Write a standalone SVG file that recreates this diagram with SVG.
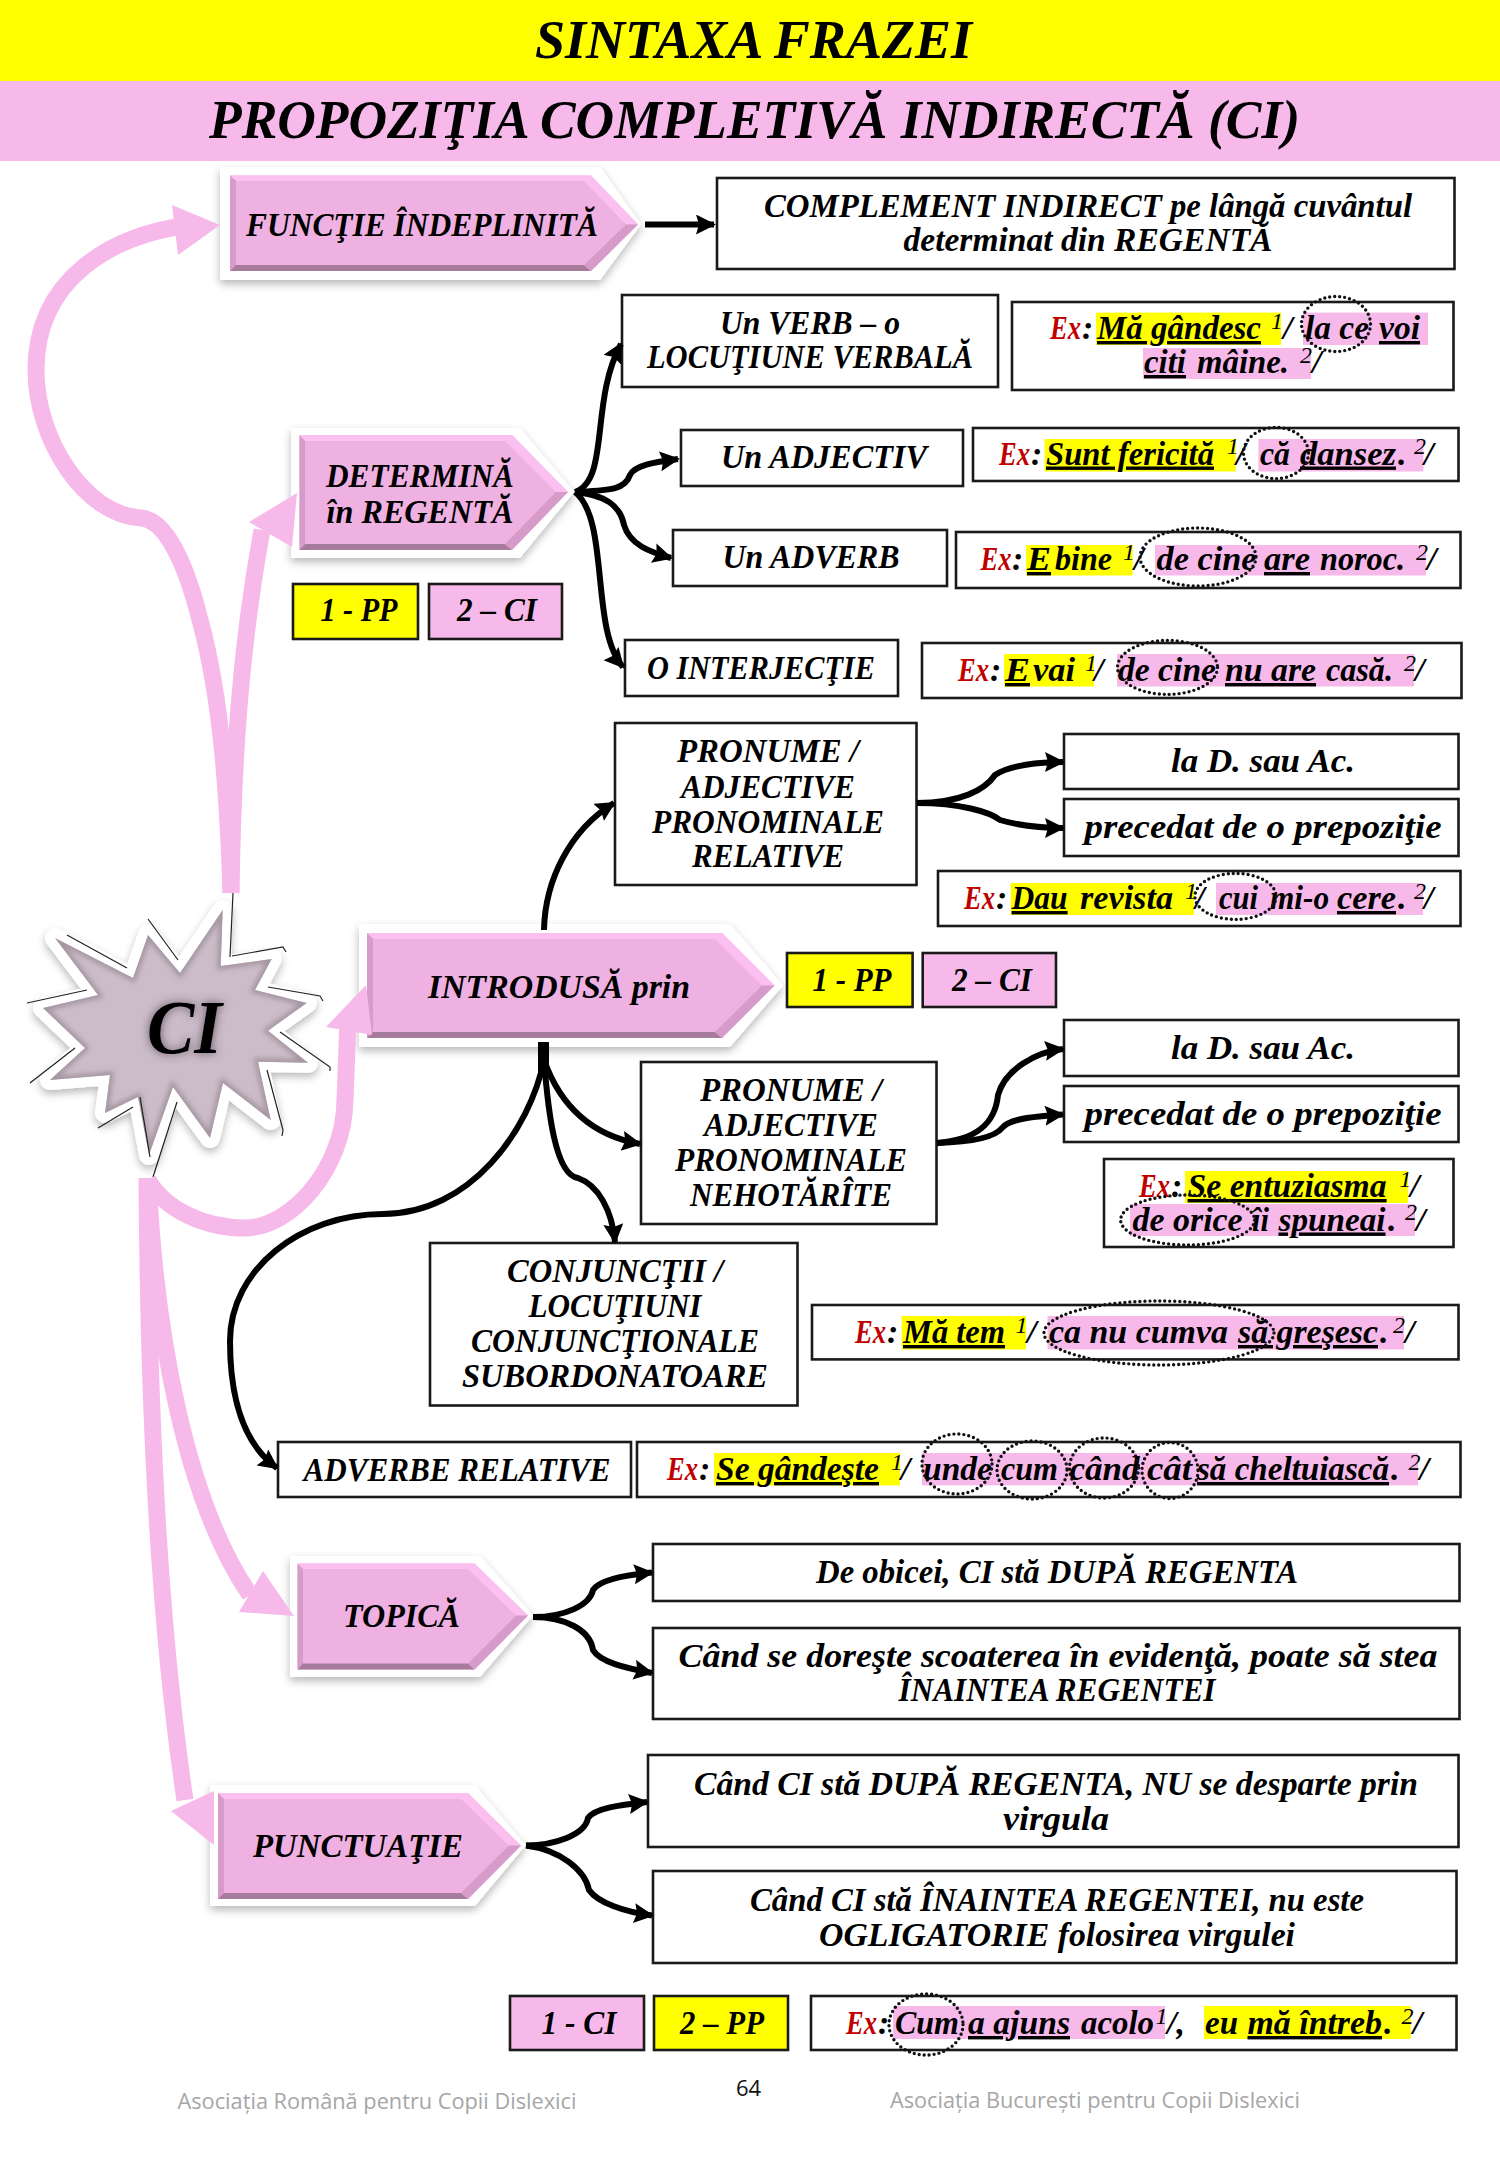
<svg xmlns="http://www.w3.org/2000/svg" width="1500" height="2167" viewBox="0 0 1500 2167">
<style>
text{font-family:"Liberation Serif",serif;font-style:italic;font-weight:bold;fill:#000;font-size:34px}
.m{text-anchor:middle}
.ttl{font-size:55px}
.box{fill:#fff;stroke:#1a1a1a;stroke-width:2.6}
.y{fill:#ffff00;stroke:#1a1a1a;stroke-width:2.6}
.p{fill:#f7b9ea;stroke:#1a1a1a;stroke-width:2.6}
.hy{fill:#ffff00}.hp{fill:#f7b9ea}
.ex{fill:#c00000}
.u{text-decoration:underline;text-decoration-style:double}
.s{font-size:24px;font-weight:normal}
.ring{fill:none;stroke:#111;stroke-width:3.4;stroke-linecap:round;stroke-dasharray:0 5}
.pl{fill:none;stroke:#f7b9ea;stroke-width:17}
.pa{fill:#f7b9ea}
.bl{fill:none;stroke:#000;stroke-width:6}
.ar{fill:#000}
.foot{font-family:"Open Sans","Liberation Sans",sans-serif;font-style:normal;font-weight:normal;font-size:22px;fill:#a6a6a6}
.out{fill:#fff;filter:url(#sh)}
.body{fill:#efb1e2}.top{fill:#fbc0f0}.bot{fill:#a67c9c}.side{fill:#d79bca}
.star{fill:#cbbcc8}
.stare{fill:none;stroke:#a596a2;stroke-width:7;filter:url(#bl);clip-path:url(#sc)}
.starout{fill:#fff;stroke:#fff;stroke-width:20;stroke-linejoin:round;filter:url(#sh)}
.th{fill:none;stroke:#222;stroke-width:1.2}
</style>
<defs>
<filter id="sh" x="-15%" y="-15%" width="130%" height="130%"><feDropShadow dx="0" dy="4" stdDeviation="4" flood-color="#000" flood-opacity=".28"/></filter>
<filter id="gl" x="-30%" y="-30%" width="160%" height="160%"><feDropShadow dx="0" dy="0" stdDeviation="5" flood-color="#4a3a48" flood-opacity=".8"/></filter>
<filter id="bl"><feGaussianBlur stdDeviation="2.5"/></filter>
<clipPath id="sc"><polygon points="222.7,910 220.7,966 271.7,959 255,990 306.7,1003 268,1030.7 308,1062.7 258,1061.7 270.7,1120 223,1083 210,1138 173,1087 149,1155 138,1097 105,1113 110,1075 50,1080 85,1048 43,1008 98,995 55,938 133,978 148,935 180,973"/></clipPath>
<marker id="a" markerUnits="userSpaceOnUse" markerWidth="26" markerHeight="26" refX="18" refY="10" orient="auto"><path d="M0 0L20 10L0 20L3 10Z" class="ar"/></marker>
</defs>
<rect x="0" y="0" width="1500" height="2167" fill="#fff"/>
<g id="title"><rect x="0" y="0" width="1500" height="81" fill="#ffff00"/><text class="m ttl" x="753.5" y="58" textLength="437" lengthAdjust="spacingAndGlyphs">SINTAXA FRAZEI</text></g>
<g id="subtitle"><rect x="0" y="81" width="1500" height="80" fill="#f7b9ea"/><text class="m ttl" x="754.5" y="138" textLength="1091" lengthAdjust="spacingAndGlyphs">PROPOZIŢIA COMPLETIVĂ INDIRECTĂ (CI)</text></g>

<g id="star">
<polygon class="starout" points="222.7,910 220.7,966 271.7,959 255,990 306.7,1003 268,1030.7 308,1062.7 258,1061.7 270.7,1120 223,1083 210,1138 173,1087 149,1155 138,1097 105,1113 110,1075 50,1080 85,1048 43,1008 98,995 55,938 133,978 148,935 180,973"/>
<polygon class="star" points="222.7,910 220.7,966 271.7,959 255,990 306.7,1003 268,1030.7 308,1062.7 258,1061.7 270.7,1120 223,1083 210,1138 173,1087 149,1155 138,1097 105,1113 110,1075 50,1080 85,1048 43,1008 98,995 55,938 133,978 148,935 180,973"/>
<polygon class="stare" points="222.7,910 220.7,966 271.7,959 255,990 306.7,1003 268,1030.7 308,1062.7 258,1061.7 270.7,1120 223,1083 210,1138 173,1087 149,1155 138,1097 105,1113 110,1075 50,1080 85,1048 43,1008 98,995 55,938 133,978 148,935 180,973"/>
<path class="th" d="M67 935L127 968M148 919L178 960M232 956L283 947L286 952M268 987L320 996L323 1001M280 1032L330 1067L330 1071M267 1070L283 1130L282 1136M177 1102L153 1177M140 1097L150 1157M233 893L230 957M27 1003L87 990M98 1128L133 1107M30 1083L75 1048"/>
<text x="147" y="1053" textLength="75" lengthAdjust="spacingAndGlyphs" style="font-size:76px;filter:url(#gl)">CI</text>
</g>

<g id="n-functie">
<polygon class="out" points="220,167 600,167 641,224.5 600,280 220,280"/>
<polygon class="body" points="230,175.5 591,175.5 638,224.5 591,271 230,271"/>
<polygon class="top" points="230,175.5 591,175.5 638,224.5 626,224.5 584,181 236,181"/>
<polygon class="side" points="230,175.5 236,181 236,265 230,271"/>
<polygon class="bot" points="230,271 591,271 584,265 236,265"/>
<polygon class="side" points="638,224.5 591,271 584,265 626,224.5"/>
<text class="m" x="422" y="236" textLength="352" lengthAdjust="spacingAndGlyphs">FUNCŢIE ÎNDEPLINITĂ</text>
</g>
<g id="n-complement"><rect class="box" x="717" y="178" width="737.5" height="91"/>
<text class="m" x="1088" y="217" textLength="648" lengthAdjust="spacingAndGlyphs">COMPLEMENT INDIRECT pe lângă cuvântul</text><text class="m" x="1088" y="251" textLength="369" lengthAdjust="spacingAndGlyphs">determinat din REGENTĂ</text></g>

<g id="n-determina">
<polygon class="out" points="291,428 520,428 574,492 520,558 291,558"/>
<polygon class="body" points="299.5,435 512,435 568,492 512,550 299.5,550"/>
<polygon class="top" points="299.5,435 512,435 568,492 556,492 505,441 305,441"/>
<polygon class="side" points="299.5,435 305,441 305,544 299.5,550"/>
<polygon class="bot" points="299.5,550 512,550 505,544 305,544"/>
<polygon class="side" points="568,492 512,550 505,544 556,492"/>
<text class="m" x="420" y="487" textLength="188" lengthAdjust="spacingAndGlyphs">DETERMINĂ</text><text class="m" x="420" y="523" textLength="187" lengthAdjust="spacingAndGlyphs">în REGENTĂ</text>
</g>
<g id="k1"><rect class="y" x="293" y="584" width="125" height="55"/><text class="m" x="359" y="621" textLength="77" lengthAdjust="spacingAndGlyphs">1 - PP</text></g>
<g id="k2"><rect class="p" x="429" y="584" width="133" height="55"/><text class="m" x="497" y="621" textLength="80" lengthAdjust="spacingAndGlyphs">2 – CI</text></g>

<g id="n-verb"><rect class="box" x="622" y="295" width="376" height="92"/><text class="m" x="810" y="334" textLength="180" lengthAdjust="spacingAndGlyphs">Un VERB – o</text><text class="m" x="810" y="368" textLength="326" lengthAdjust="spacingAndGlyphs">LOCUŢIUNE VERBALĂ</text></g>
<g id="ex1"><rect class="box" x="1012" y="302" width="441.5" height="88"/>
<rect class="hy" x="1096" y="312.6" width="185" height="32.4"/><rect class="hp" x="1303" y="312.6" width="125" height="32.4"/><rect class="hp" x="1143" y="348" width="168" height="31"/>
<text class="ex" x="1050" y="339" textLength="31" lengthAdjust="spacingAndGlyphs">Ex</text><text x="1082" y="339">:</text>
<text class="u" x="1097" y="339" textLength="164" lengthAdjust="spacingAndGlyphs">Mă gândesc</text><text class="s" x="1271" y="329">1</text><text y="339" x="1283">/</text>
<text y="339" x="1305" textLength="64" lengthAdjust="spacingAndGlyphs">la ce</text><text class="u" y="339" x="1379" textLength="41" lengthAdjust="spacingAndGlyphs">voi</text>
<text class="u" y="373" x="1144" textLength="42" lengthAdjust="spacingAndGlyphs">citi</text><text y="373" x="1197" textLength="92" lengthAdjust="spacingAndGlyphs">mâine.</text><text class="s" x="1300" y="363">2</text><text y="373" x="1312">/</text>
<ellipse class="ring" cx="1336" cy="324" rx="34.5" ry="27.5"/></g>

<g id="n-adj"><rect class="box" x="681" y="430" width="282" height="56"/><text class="m" x="824" y="468" textLength="206" lengthAdjust="spacingAndGlyphs">Un ADJECTIV</text></g>
<g id="ex2"><rect class="box" x="973" y="428" width="485.5" height="53"/>
<rect class="hy" x="1044.6" y="439" width="191" height="32.5"/><rect class="hp" x="1258.4" y="439" width="165" height="32.5"/>
<text class="ex" x="999" y="464.5" textLength="31" lengthAdjust="spacingAndGlyphs">Ex</text><text x="1031" y="464.5">:</text>
<text class="u" x="1046" y="464.5" textLength="168" lengthAdjust="spacingAndGlyphs">Sunt fericită</text><text class="s" x="1227" y="454">1</text><text y="464.5" x="1236">/</text>
<text y="464.5" x="1260" textLength="30" lengthAdjust="spacingAndGlyphs">că</text><text class="u" y="464.5" x="1300" textLength="96" lengthAdjust="spacingAndGlyphs">dansez</text><text y="464.5" x="1398">.</text><text class="s" x="1414" y="454">2</text><text y="464.5" x="1424">/</text>
<ellipse class="ring" cx="1276" cy="453" rx="32.5" ry="25.6"/></g>

<g id="n-adv"><rect class="box" x="673" y="530" width="274" height="56"/><text class="m" x="811" y="568" textLength="177" lengthAdjust="spacingAndGlyphs">Un ADVERB</text></g>
<g id="ex3"><rect class="box" x="956" y="532" width="504.5" height="56"/>
<rect class="hy" x="1026" y="545" width="106.6" height="30.5"/><rect class="hp" x="1155" y="545" width="271" height="30.5"/>
<text class="ex" x="980.5" y="570" textLength="31" lengthAdjust="spacingAndGlyphs">Ex</text><text x="1012" y="570">:</text>
<text class="u" x="1027" y="570" textLength="24" lengthAdjust="spacingAndGlyphs">E</text><text x="1055" y="570" textLength="57" lengthAdjust="spacingAndGlyphs">bine</text><text class="s" x="1123" y="560">1</text><text y="570" x="1134">/</text>
<text y="570" x="1156.5" textLength="100" lengthAdjust="spacingAndGlyphs">de cine</text><text class="u" y="570" x="1264" textLength="46" lengthAdjust="spacingAndGlyphs">are</text><text y="570" x="1320" textLength="85" lengthAdjust="spacingAndGlyphs">noroc.</text><text class="s" x="1416" y="560">2</text><text y="570" x="1427">/</text>
<ellipse class="ring" cx="1198" cy="557" rx="58" ry="29"/></g>

<g id="n-interj"><rect class="box" x="625" y="640" width="273" height="56"/><text class="m" x="761" y="679" textLength="228" lengthAdjust="spacingAndGlyphs">O INTERJECŢIE</text></g>
<g id="ex4"><rect class="box" x="922" y="643" width="539.5" height="55"/>
<rect class="hy" x="1004" y="654" width="90" height="32.5"/><rect class="hp" x="1117" y="654" width="297" height="32.5"/>
<text class="ex" x="958" y="681" textLength="31" lengthAdjust="spacingAndGlyphs">Ex</text><text x="990" y="681">:</text>
<text class="u" x="1005" y="681" textLength="25" lengthAdjust="spacingAndGlyphs">E</text><text x="1033" y="681" textLength="42" lengthAdjust="spacingAndGlyphs">vai</text><text class="s" x="1085" y="671">1</text><text y="681" x="1094">/</text>
<text y="681" x="1118" textLength="98" lengthAdjust="spacingAndGlyphs">de cine</text><text class="u" y="681" x="1225" textLength="91" lengthAdjust="spacingAndGlyphs">nu are</text><text y="681" x="1326" textLength="67" lengthAdjust="spacingAndGlyphs">casă.</text><text class="s" x="1404" y="671">2</text><text y="681" x="1415">/</text>
<ellipse class="ring" cx="1167.5" cy="667.4" rx="50" ry="27"/></g>

<g id="n-prel"><rect class="box" x="615" y="723" width="301.5" height="162"/><text class="m" x="768" y="762" textLength="182" lengthAdjust="spacingAndGlyphs">PRONUME /</text><text class="m" x="768" y="798" textLength="174" lengthAdjust="spacingAndGlyphs">ADJECTIVE</text><text class="m" x="768" y="832.5" textLength="232" lengthAdjust="spacingAndGlyphs">PRONOMINALE</text><text class="m" x="768" y="867" textLength="152" lengthAdjust="spacingAndGlyphs">RELATIVE</text></g>
<g id="n-d1"><rect class="box" x="1064" y="734" width="394.5" height="55"/><text class="m" x="1263" y="772" textLength="184" lengthAdjust="spacingAndGlyphs">la D. sau Ac.</text></g>
<g id="n-pr1"><rect class="box" x="1064" y="799" width="394.5" height="57"/><text class="m" x="1263" y="838" textLength="357" lengthAdjust="spacingAndGlyphs">precedat de o prepoziţie</text></g>
<g id="ex5"><rect class="box" x="938" y="871" width="522.5" height="55"/>
<rect class="hy" x="1010.7" y="883" width="183.3" height="32"/><rect class="hp" x="1216" y="883" width="207" height="32"/>
<text class="ex" x="964" y="909" textLength="31" lengthAdjust="spacingAndGlyphs">Ex</text><text x="996" y="909">:</text>
<text class="u" x="1011.6" y="909" textLength="56" lengthAdjust="spacingAndGlyphs">Dau</text><text x="1080" y="909" textLength="93" lengthAdjust="spacingAndGlyphs">revista</text><text class="s" x="1185" y="899">1</text><text y="909" x="1195">/</text>
<text y="909" x="1219" textLength="39" lengthAdjust="spacingAndGlyphs">cui</text><text y="909" x="1270" textLength="59" lengthAdjust="spacingAndGlyphs">mi-o</text><text class="u" y="909" x="1337" textLength="59" lengthAdjust="spacingAndGlyphs">cere</text><text y="909" x="1398">.</text><text class="s" x="1414" y="899">2</text><text y="909" x="1424">/</text>
<ellipse class="ring" cx="1235.5" cy="896.4" rx="40.6" ry="23"/></g>

<g id="n-introdusa">
<polygon class="out" points="359,924 730,924 783,985.5 730,1047 359,1047"/>
<polygon class="body" points="367,933 722,933 774.5,985.5 722,1038 367,1038"/>
<polygon class="top" points="367,933 722,933 774.5,985.5 762,985.5 715,939 373,939"/>
<polygon class="side" points="367,933 373,939 373,1032 367,1038"/>
<polygon class="bot" points="367,1038 722,1038 715,1032 373,1032"/>
<polygon class="side" points="774.5,985.5 722,1038 715,1032 762,985.5"/>
<text class="m" x="559" y="997.5" textLength="262" lengthAdjust="spacingAndGlyphs">INTRODUSĂ prin</text>
</g>
<g id="k3"><rect class="y" x="787" y="953" width="125.6" height="54"/><text class="m" x="852" y="991" textLength="79" lengthAdjust="spacingAndGlyphs">1 - PP</text></g>
<g id="k4"><rect class="p" x="922.7" y="953" width="133.3" height="54"/><text class="m" x="992" y="991" textLength="80" lengthAdjust="spacingAndGlyphs">2 – CI</text></g>

<g id="n-d2"><rect class="box" x="1064" y="1020" width="394.5" height="56"/><text class="m" x="1263" y="1058.5" textLength="184" lengthAdjust="spacingAndGlyphs">la D. sau Ac.</text></g>
<g id="n-pr2"><rect class="box" x="1064" y="1086" width="394.5" height="56"/><text class="m" x="1263" y="1125" textLength="357" lengthAdjust="spacingAndGlyphs">precedat de o prepoziţie</text></g>
<g id="n-pneh"><rect class="box" x="641" y="1062" width="295.5" height="162"/><text class="m" x="791" y="1101" textLength="182" lengthAdjust="spacingAndGlyphs">PRONUME /</text><text class="m" x="791" y="1136" textLength="174" lengthAdjust="spacingAndGlyphs">ADJECTIVE</text><text class="m" x="791" y="1171" textLength="232" lengthAdjust="spacingAndGlyphs">PRONOMINALE</text><text class="m" x="791" y="1205.6" textLength="202" lengthAdjust="spacingAndGlyphs">NEHOTĂRÎTE</text></g>
<g id="ex6"><rect class="box" x="1104" y="1159" width="349.5" height="88"/>
<rect class="hy" x="1185" y="1171" width="223" height="32"/><rect class="hp" x="1130" y="1204" width="285" height="32"/>
<text class="ex" x="1139" y="1197" textLength="31" lengthAdjust="spacingAndGlyphs">Ex</text><text x="1171" y="1197">:</text>
<text class="u" x="1187.6" y="1197" textLength="199" lengthAdjust="spacingAndGlyphs">Se entuziasma</text><text class="s" x="1399.5" y="1187">1</text><text y="1197" x="1410">/</text>
<text y="1230.5" x="1132.6" textLength="110" lengthAdjust="spacingAndGlyphs">de orice</text><text y="1230.5" x="1252" textLength="17" lengthAdjust="spacingAndGlyphs">îi</text><text class="u" y="1230.5" x="1278.5" textLength="107" lengthAdjust="spacingAndGlyphs">spuneai</text><text y="1230.5" x="1388">.</text><text class="s" x="1405" y="1220">2</text><text y="1230.5" x="1416">/</text>
<ellipse class="ring" cx="1187.6" cy="1220" rx="67" ry="25"/></g>

<g id="n-conj"><rect class="box" x="430" y="1243" width="367.5" height="162.5"/><text class="m" x="615" y="1282" textLength="216" lengthAdjust="spacingAndGlyphs">CONJUNCŢII /</text><text class="m" x="615" y="1317" textLength="173" lengthAdjust="spacingAndGlyphs">LOCUŢIUNI</text><text class="m" x="615" y="1351.5" textLength="288" lengthAdjust="spacingAndGlyphs">CONJUNCŢIONALE</text><text class="m" x="615" y="1387" textLength="306" lengthAdjust="spacingAndGlyphs">SUBORDONATOARE</text></g>
<g id="ex7"><rect class="box" x="812" y="1305" width="646.5" height="54.4"/>
<rect class="hy" x="901.6" y="1316" width="124.4" height="33.5"/><rect class="hp" x="1047.5" y="1316" width="356.5" height="33.5"/>
<text class="ex" x="855" y="1343" textLength="31" lengthAdjust="spacingAndGlyphs">Ex</text><text x="887" y="1343">:</text>
<text class="u" x="903" y="1343" textLength="102" lengthAdjust="spacingAndGlyphs">Mă tem</text><text class="s" x="1015.5" y="1333">1</text><text y="1343" x="1027">/</text>
<text y="1343" x="1049" textLength="179" lengthAdjust="spacingAndGlyphs">ca nu cumva</text><text class="u" y="1343" x="1238" textLength="140" lengthAdjust="spacingAndGlyphs">să greşesc</text><text y="1343" x="1380">.</text><text class="s" x="1393" y="1333">2</text><text y="1343" x="1405">/</text>
<ellipse class="ring" cx="1159" cy="1333" rx="115" ry="32"/></g>

<g id="n-advrel"><rect class="box" x="278" y="1442" width="353" height="55"/><text class="m" x="457" y="1480.6" textLength="307" lengthAdjust="spacingAndGlyphs">ADVERBE RELATIVE</text></g>
<g id="ex8"><rect class="box" x="637" y="1442" width="823.5" height="55"/>
<rect class="hy" x="714" y="1453" width="186" height="32.4"/><rect class="hp" x="922" y="1453" width="496" height="32.4"/>
<text class="ex" x="667" y="1480" textLength="31" lengthAdjust="spacingAndGlyphs">Ex</text><text x="699" y="1480">:</text>
<text class="u" x="716" y="1480" textLength="163" lengthAdjust="spacingAndGlyphs">Se gândeşte</text><text class="s" x="891" y="1470">1</text><text y="1480" x="900.7">/</text>
<text y="1480" x="923" textLength="69" lengthAdjust="spacingAndGlyphs">unde</text><text y="1480" x="1001" textLength="57" lengthAdjust="spacingAndGlyphs">cum</text><text y="1480" x="1069.5" textLength="70" lengthAdjust="spacingAndGlyphs">când</text><text y="1480" x="1147" textLength="45" lengthAdjust="spacingAndGlyphs">cât</text><text class="u" y="1480" x="1197" textLength="192" lengthAdjust="spacingAndGlyphs">să cheltuiască</text><text y="1480" x="1391">.</text><text class="s" x="1408.6" y="1470">2</text><text y="1480" x="1419.6">/</text>
<ellipse class="ring" cx="957" cy="1464" rx="35" ry="30"/><ellipse class="ring" cx="1032" cy="1470" rx="35" ry="29"/><ellipse class="ring" cx="1104" cy="1468" rx="34.5" ry="30"/><ellipse class="ring" cx="1170" cy="1470.5" rx="28" ry="28"/></g>

<g id="n-topica">
<polygon class="out" points="290,1556 480,1556 533,1615.5 480,1677 290,1677"/>
<polygon class="body" points="297.5,1563.4 474.5,1563.4 528,1615.5 474.5,1669.5 297.5,1669.5"/>
<polygon class="top" points="297.5,1563.4 474.5,1563.4 528,1615.5 516,1615.5 468,1569 303,1569"/>
<polygon class="side" points="297.5,1563.4 303,1569 303,1663.5 297.5,1669.5"/>
<polygon class="bot" points="297.5,1669.5 474.5,1669.5 468,1663.5 303,1663.5"/>
<polygon class="side" points="528,1615.5 474.5,1669.5 468,1663.5 516,1615.5"/>
<text class="m" x="401.5" y="1627" textLength="117" lengthAdjust="spacingAndGlyphs">TOPICĂ</text>
</g>
<g id="n-ob"><rect class="box" x="653" y="1544" width="806.5" height="57"/><text class="m" x="1057" y="1583" textLength="482" lengthAdjust="spacingAndGlyphs">De obicei, CI stă DUPĂ REGENTA</text></g>
<g id="n-cs"><rect class="box" x="653" y="1628" width="806.5" height="91"/><text class="m" x="1058" y="1667" textLength="759" lengthAdjust="spacingAndGlyphs">Când se doreşte scoaterea în evidenţă, poate să stea</text><text class="m" x="1057" y="1701" textLength="317" lengthAdjust="spacingAndGlyphs">ÎNAINTEA REGENTEI</text></g>

<g id="n-punct">
<polygon class="out" points="210,1785 475,1785 525.5,1845.6 475,1906 210,1906"/>
<polygon class="body" points="218,1793 468,1793 521,1845.6 468,1899 218,1899"/>
<polygon class="top" points="218,1793 468,1793 521,1845.6 509,1845.6 461,1799 224,1799"/>
<polygon class="side" points="218,1793 224,1799 224,1893 218,1899"/>
<polygon class="bot" points="218,1899 468,1899 461,1893 224,1893"/>
<polygon class="side" points="521,1845.6 468,1899 461,1893 509,1845.6"/>
<text class="m" x="358" y="1857" textLength="210" lengthAdjust="spacingAndGlyphs">PUNCTUAŢIE</text>
</g>
<g id="n-cd"><rect class="box" x="648" y="1755" width="810.5" height="92"/><text class="m" x="1056" y="1795" textLength="724" lengthAdjust="spacingAndGlyphs">Când CI stă DUPĂ REGENTA, NU se desparte prin</text><text class="m" x="1056" y="1830" textLength="106" lengthAdjust="spacingAndGlyphs">virgula</text></g>
<g id="n-ci"><rect class="box" x="653" y="1871" width="803.5" height="92"/><text class="m" x="1057" y="1911" textLength="614" lengthAdjust="spacingAndGlyphs">Când CI stă ÎNAINTEA REGENTEI, nu este</text><text class="m" x="1057" y="1946" textLength="476" lengthAdjust="spacingAndGlyphs">OGLIGATORIE folosirea virgulei</text></g>

<g id="k5"><rect class="p" x="510" y="1996" width="134" height="54"/><text class="m" x="579" y="2034" textLength="75" lengthAdjust="spacingAndGlyphs">1 - CI</text></g>
<g id="k6"><rect class="y" x="654" y="1996" width="134" height="54"/><text class="m" x="722" y="2034" textLength="84" lengthAdjust="spacingAndGlyphs">2 – PP</text></g>
<g id="ex9"><rect class="box" x="811" y="1996" width="645.5" height="54"/>
<rect class="hp" x="893" y="2006" width="272" height="33"/><rect class="hy" x="1204" y="2006" width="206.7" height="33"/>
<text class="ex" x="846" y="2034" textLength="31" lengthAdjust="spacingAndGlyphs">Ex</text><text x="878" y="2034">:</text>
<text x="895" y="2034" textLength="64" lengthAdjust="spacingAndGlyphs">Cum</text><text class="u" y="2034" x="968" textLength="102" lengthAdjust="spacingAndGlyphs">a ajuns</text><text y="2034" x="1081" textLength="73" lengthAdjust="spacingAndGlyphs">acolo</text><text class="s" x="1155.6" y="2024">1</text><text y="2034" x="1167">/,</text>
<text y="2034" x="1205" textLength="33" lengthAdjust="spacingAndGlyphs">eu</text><text class="u" y="2034" x="1247.5" textLength="134.5" lengthAdjust="spacingAndGlyphs">mă întreb</text><text y="2034" x="1384">.</text><text class="s" x="1401.6" y="2024">2</text><text y="2034" x="1412.7">/</text>
<ellipse class="ring" cx="926" cy="2024.5" rx="37" ry="30.6"/></g>

<g id="footer">
<text class="foot" x="177.5" y="2108.5" textLength="399" lengthAdjust="spacingAndGlyphs">Asociația Română pentru Copii Dislexici</text>
<text class="foot" x="736" y="2096" style="fill:#111">64</text>
<text class="foot" x="890" y="2108" textLength="410" lengthAdjust="spacingAndGlyphs">Asociația București pentru Copii Dislexici</text>
</g>

<g id="connectors">
<path class="pl" d="M231 893C228 800 222 700 200 620C185 560 165 520 141 518C85 515 36 440 36 370C36 280 110 235 190 225"/>
<polygon class="pa" points="220,225 172,205 178,255"/>
<path class="pl" d="M231 893C233 760 240 650 262 530"/>
<polygon class="pa" points="297,493 249,522 292,547"/>
<path class="pl" d="M148 1180C165 1210 205 1228 245 1228C290 1228 344 1170 345 1100L348 1020"/>
<polygon class="pa" points="366,985 326,1027 372,1035"/>
<path class="pl" d="M147 1178C148 1350 155 1600 185 1800"/>
<polygon class="pa" points="214,1845 171,1811 214,1791"/>
<path class="pl" d="M148 1178C155 1330 185 1500 250 1595"/>
<polygon class="pa" points="294,1616 239,1612 263,1571"/>
<path class="bl" d="M645 224.5H714" marker-end="url(#a)"/>
<path class="bl" d="M575 492C610 480 590 400 621 344" marker-end="url(#a)"/>
<path class="bl" d="M575 492C610 490 625 490 630 475C635 465 655 462 678 459" marker-end="url(#a)"/>
<path class="bl" d="M575 492C605 495 620 505 624 525C630 545 650 552 671 558" marker-end="url(#a)"/>
<path class="bl" d="M575 492C610 520 590 630 623 667" marker-end="url(#a)"/>
<path class="bl" d="M544 930C545 880 570 830 614 803" marker-end="url(#a)"/>
<path d="M538 1042H549V1075H538Z" class="ar"/>
<path class="bl" d="M544 1060C560 1105 590 1135 640 1144" marker-end="url(#a)"/>
<path class="bl" d="M544 1060C548 1110 555 1175 578 1178C598 1185 612 1210 615 1242" marker-end="url(#a)"/>
<path class="bl" d="M544 1060C530 1130 470 1214 383 1214C300 1214 230 1270 230 1341C230 1400 245 1445 277 1468" marker-end="url(#a)"/>
<path class="bl" d="M917 803C960 803 985 790 995 775C1010 765 1040 762 1063 762" marker-end="url(#a)"/>
<path class="bl" d="M917 803C960 803 990 812 1000 820C1020 826 1040 828 1063 828" marker-end="url(#a)"/>
<path class="bl" d="M937 1143C975 1140 995 1125 998 1095C1005 1070 1035 1052 1063 1049" marker-end="url(#a)"/>
<path class="bl" d="M937 1143C975 1142 995 1137 1002 1128C1010 1118 1040 1116 1063 1114.5" marker-end="url(#a)"/>
<path class="bl" d="M533 1617C565 1617 590 1605 593 1590C600 1580 625 1575 652 1572.6" marker-end="url(#a)"/>
<path class="bl" d="M533 1617C565 1617 590 1630 593 1650C600 1662 625 1668 652 1673" marker-end="url(#a)"/>
<path class="bl" d="M526 1845.6C555 1845 585 1835 588 1818C595 1808 620 1805 647 1802" marker-end="url(#a)"/>
<path class="bl" d="M526 1845.6C560 1850 585 1870 589 1890C598 1903 625 1912 652 1915.5" marker-end="url(#a)"/>
</g>
</svg>
